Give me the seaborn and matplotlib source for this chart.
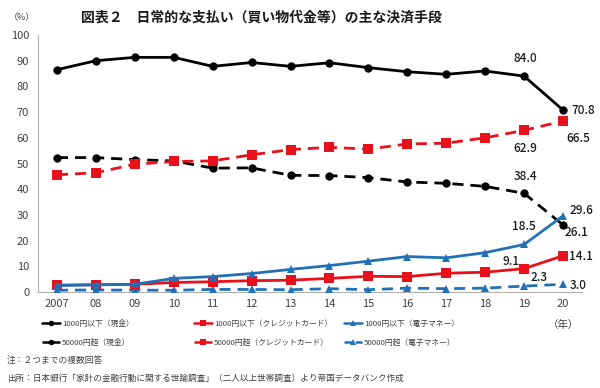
import numpy as np
import pandas as pd
import matplotlib
matplotlib.use("Agg")
import matplotlib.pyplot as plt
import seaborn as sns
from matplotlib.lines import Line2D

years = ["2007", "08", "09", "10", "11", "12", "13", "14", "15", "16", "17", "18", "19", "20"]
cash_small = [86.5, 90.0, 91.3, 91.3, 87.8, 89.3, 87.8, 89.2, 87.3, 85.7, 84.7, 86.0, 84.0, 70.8]
credit_small = [2.7, 2.8, 3.0, 3.7, 4.0, 4.4, 4.6, 5.3, 6.1, 6.0, 7.3, 7.7, 9.1, 14.1]
emoney_small = [2.5, 2.8, 3.0, 5.3, 6.0, 7.2, 8.8, 10.3, 12.0, 13.8, 13.3, 15.3, 18.5, 29.6]
cash_large = [52.3, 52.3, 51.5, 51.0, 48.2, 48.3, 45.4, 45.3, 44.5, 42.8, 42.3, 41.1, 38.4, 26.1]
credit_large = [45.6, 46.4, 49.7, 50.8, 51.0, 53.4, 55.4, 56.3, 55.6, 57.6, 57.9, 60.0, 62.9, 66.5]
emoney_large = [0.7, 0.8, 0.7, 0.7, 1.0, 1.0, 0.9, 1.3, 0.9, 1.5, 1.3, 1.5, 2.3, 3.0]

series_names = ["1000円以下（現金）", "1000円以下（クレジットカード）", "1000円以下（電子マネー）",
                "50000円超（現金）", "50000円超（クレジットカード）", "50000円超（電子マネー）"]
series_values = [cash_small, credit_small, emoney_small, cash_large, credit_large, emoney_large]

BLACK = "#000000"
RED = "#e8101a"
BLUE = "#2271b8"
colors = [BLACK, RED, BLUE, BLACK, RED, BLUE]
markers = ["o", "s", "^", "o", "s", "^"]
dashed = [False, False, False, True, True, True]
msizes = [6, 6.5, 6, 6, 6.5, 6]

sns.set_style("white")
plt.rcParams["font.family"] = ["Noto Sans CJK JP", "DejaVu Sans"]

fig = plt.figure(figsize=(6.0, 3.88), dpi=100)
ax = fig.add_axes([0.0625, 0.2474, 0.9083, 0.6624])

xpos = np.arange(len(years))
order = [3, 4, 5, 0, 1, 2]
for i in order:
    df = pd.DataFrame({"x": xpos, "y": series_values[i]})
    sns.lineplot(data=df, x="x", y="y", ax=ax, color=colors[i], marker=markers[i],
                 markersize=msizes[i], markeredgewidth=0, linewidth=2.0,
                 linestyle=(0, (4, 2.5)) if dashed[i] else "-", legend=False, zorder=3)

ax.set_xlim(-0.5, 13.5)
ax.set_ylim(0, 100)
ax.set_yticks(range(0, 101, 10))
ax.set_xticks(xpos)
ax.set_xticklabels(years)
ax.set_xticks(np.arange(-0.5, 13.6, 1), minor=True)
ax.tick_params(axis="x", which="major", length=0, labelsize=8, colors="#404040", pad=5)
ax.tick_params(axis="x", which="minor", length=3, direction="in", color="#b0b0b0")
ax.tick_params(axis="y", length=0, labelsize=8, colors="#404040", pad=6)
ax.set_xlabel("")
ax.set_ylabel("")
for s in ["top", "right"]:
    ax.spines[s].set_visible(False)
for s in ["left", "bottom"]:
    ax.spines[s].set_color("#b0b0b0")
    ax.spines[s].set_linewidth(0.8)
ax.grid(False)

# annotations
ann = [
    ("84.0", 12.03, 90.7, "center"),
    ("62.9", 12.03, 56.0, "center"),
    ("38.4", 12.03, 44.9, "center"),
    ("18.5", 12.0, 25.3, "center"),
    ("9.1", 11.67, 11.8, "center"),
    ("2.3", 12.39, 5.8, "center"),
    ("70.8", 13.21, 70.8, "left"),
    ("66.5", 13.39, 59.9, "center"),
    ("29.6", 13.16, 31.9, "left"),
    ("26.1", 13.34, 23.0, "center"),
    ("14.1", 13.16, 14.0, "left"),
    ("3.0", 13.16, 2.5, "left"),
]
for t, x, y, ha in ann:
    ax.text(x, y, t, ha=ha, va="center", fontsize=8.5, color="#1a1a1a",
            fontweight="medium", clip_on=False, zorder=5)

# title and labels
fig.text(0.435, 0.955, "図表２　日常的な支払い（買い物代金等）の主な決済手段",
         ha="center", va="center", fontsize=10, fontweight="bold", color="#1a1a1a")
fig.text(0.037, 0.955, "（%）", ha="center", va="center", fontsize=6.5, color="#404040")
fig.text(563 / 600, 1 - 325 / 388, "（年）", ha="center", va="center", fontsize=7.5, color="#404040")

# legends (three columns)
def handle(i):
    return Line2D([], [], color=colors[i], marker=markers[i], markersize=4,
                  markeredgewidth=0, linewidth=1.8,
                  linestyle=(0, (3, 1.5)) if dashed[i] else "-")

col_x = [42, 194, 344]
for c in range(3):
    hs = [handle(c), handle(c + 3)]
    ls = [series_names[c], series_names[c + 3]]
    fig.legend(hs, ls, loc="upper left", bbox_to_anchor=(col_x[c] / 600, 1 - 320 / 388),
               frameon=False, fontsize=5.6, handlelength=2.3, handletextpad=0.3,
               labelspacing=1.35, borderaxespad=0, borderpad=0, labelcolor="#404040")

fig.text(7 / 600, 1 - 360 / 388, "注：２つまでの複数回答", ha="left", va="center",
         fontsize=6.3, color="#404040")
fig.text(7 / 600, 1 - 378 / 388,
         "出所：日本銀行「家計の金融行動に関する世論調査」（二人以上世帯調査）より帝国データバンク作成",
         ha="left", va="center", fontsize=6.2, color="#404040")

fig.savefig("out.png", dpi=100)
